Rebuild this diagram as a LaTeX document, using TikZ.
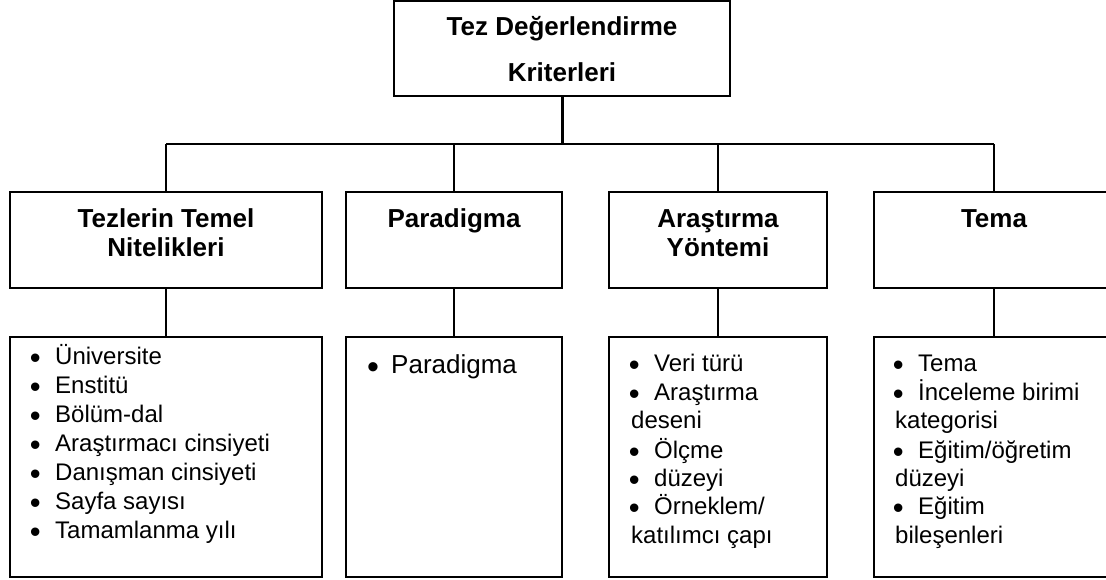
\documentclass[tikz,border=0pt]{standalone}
\usepackage{fontspec}
\setmainfont{Liberation Sans}
\newcommand\mybul{\makebox[24pt][l]{\hspace{-1.4pt}\raisebox{-4.1pt}{\fontsize{31}{0}\selectfont •}}}
\begin{document}
\begin{tikzpicture}[x=1pt,y=-1pt,
  box/.style={draw=black, line width=1.8pt, inner sep=0pt, outer sep=0pt},
  head/.style={anchor=base, inner sep=0pt, font=\fontsize{26}{29}\selectfont\bfseries},
  itm/.style={anchor=base west, inner sep=0pt, font=\fontsize{24}{29}\selectfont},
  conn/.style={draw=black, line width=1.6pt},
  trunk/.style={draw=black, line width=3pt}]
\useasboundingbox (0,0) rectangle (1106,580);
\begin{scope}
\clip (0,0) rectangle (1106,580);
% top box
\node[box, minimum width=336pt, minimum height=95pt] (top) at (562,48.5) {};
\node[head] (t1) at (562,36) {Tez Değerlendirme};
\node[head] (t2) at (562,82) {Kriterleri};
% upper boxes
\node[box, minimum width=312pt, minimum height=96pt] (h1) at (166,240) {};
\node[box, minimum width=216pt, minimum height=96pt] (h2) at (454,240) {};
\node[box, minimum width=218pt, minimum height=96pt] (h3) at (718,240) {};
\node[box, minimum width=240pt, minimum height=96pt] (h4) at (994,240) {};
% lower boxes
\node[box, minimum width=312pt, minimum height=240pt] (l1) at (166,457) {};
\node[box, minimum width=216pt, minimum height=240pt] (l2) at (454,457) {};
\node[box, minimum width=218pt, minimum height=240pt] (l3) at (718,457) {};
\node[box, minimum width=240pt, minimum height=240pt] (l4) at (994,457) {};
% headings
\node[head] (h1a) at (166,228) {Tezlerin Temel};
\node[head] (h1b) at (166,257) {Nitelikleri};
\node[head] (h2a) at (454,228) {Paradigma};
\node[head] (h3a) at (718,228) {Araştırma};
\node[head] (h3b) at (718,257) {Yöntemi};
\node[head] (h4a) at (994,228) {Tema};
% connectors
\coordinate (j) at (562,144);
\draw[trunk] (top.south) -- (j);
\draw[conn] (h1.north |- j) -- (h4.north |- j);
\draw[conn] (h1.north |- j) -- (h1.north);
\draw[conn] (h2.north |- j) -- (h2.north);
\draw[conn] (h3.north |- j) -- (h3.north);
\draw[conn] (h4.north |- j) -- (h4.north);
\draw[conn] (h1.south) -- (l1.north);
\draw[conn] (h2.south) -- (l2.north);
\draw[conn] (h3.south) -- (l3.north);
\draw[conn] (h4.south) -- (l4.north);
% list 1
\node[itm] (a1) at (31,364) {\mybul Üniversite};
\node[itm] (a2) at (31,393) {\mybul Enstitü};
\node[itm] (a3) at (31,422) {\mybul Bölüm-dal};
\node[itm] (a4) at (31,451) {\mybul Araştırmacı cinsiyeti};
\node[itm] (a5) at (31,480) {\mybul Danışman cinsiyeti};
\node[itm] (a6) at (31,509) {\mybul Sayfa sayısı};
\node[itm] (a7) at (31,538) {\mybul Tamamlanma yılı};
% list 2
\node[itm, font=\fontsize{26}{29}\selectfont] (b1) at (368.5,373) {\makebox[22.5pt][l]{\hspace{-1.5pt}\raisebox{-5pt}{\fontsize{34}{0}\selectfont •}}Paradigma};
% list 3
\node[itm] (c1) at (630,371) {\mybul Veri türü};
\node[itm] (c2) at (630,400) {\mybul Araştırma};
\node[itm] (c3) at (631,428) {deseni};
\node[itm] (c4) at (630,458) {\mybul Ölçme};
\node[itm] (c5) at (630,486) {\mybul düzeyi};
\node[itm] (c6) at (630,514) {\mybul Örneklem/};
\node[itm] (c7) at (631,543) {katılımcı çapı};
% list 4
\node[itm] (d1) at (894,371) {\mybul Tema};
\node[itm] (d2) at (894,400) {\mybul İnceleme birimi};
\node[itm] (d3) at (895,428) {kategorisi};
\node[itm] (d4) at (894,458) {\mybul Eğitim/öğretim};
\node[itm] (d5) at (895,486) {düzeyi};
\node[itm] (d6) at (894,514) {\mybul Eğitim};
\node[itm] (d7) at (895,543) {bileşenleri};
\end{scope}
\end{tikzpicture}
\end{document}
